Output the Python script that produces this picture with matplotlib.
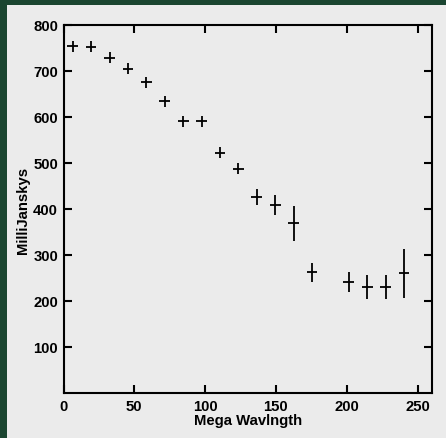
import numpy as np
import matplotlib.pyplot as plt
from matplotlib.patches import Rectangle

plt.rcParams['font.family'] = ['Liberation Sans', 'DejaVu Sans']
plt.rcParams['font.weight'] = 'bold'

# visibility amplitude vs baseline
wave = [6.5, 19.5, 32.5, 45.5, 58.5, 71.5, 84.5, 97.5, 110.5, 123.5, 136.5,
        149.5, 162.5, 175.5, 201.5, 214.5, 227.5, 240.5]
flux = [754, 753, 729, 705, 676, 634, 591, 591, 522, 488, 426,
        409, 369, 262, 241, 231, 231, 260]
flux_err = [12, 12, 12, 12, 12, 12, 12, 12, 12, 12, 17,
            21, 38, 20, 21, 26, 26, 53]
wave_err = 3.8

bg = '#ebebeb'
green = '#1a4530'
fig = plt.figure(figsize=(4.46, 4.39), dpi=100)
fig.patch.set_facecolor(bg)
# dark frame on the left and top edges
fig.patches.append(Rectangle((0, 0), 7/446, 1, transform=fig.transFigure,
                             facecolor=green, edgecolor='none'))
fig.patches.append(Rectangle((0, 1 - 6/439), 1, 6/439, transform=fig.transFigure,
                             facecolor=green, edgecolor='none'))

ax = fig.add_axes([63.5/446, 45/439, 368.2/446, 368/439])
ax.set_facecolor(bg)
ax.errorbar(wave, flux, xerr=wave_err, yerr=flux_err, fmt='none',
            ecolor='black', elinewidth=1.3, capsize=0)

ax.set_xlim(0, 260)
ax.set_ylim(0, 800)
ax.set_xticks([0, 50, 100, 150, 200, 250])
ax.set_yticks([100, 200, 300, 400, 500, 600, 700, 800])
ax.tick_params(direction='in', length=6, width=1.5, top=True, right=True,
               labelsize=10.7, pad=4, colors='black')
for sp in ax.spines.values():
    sp.set_linewidth(1.5)

ax.set_xlabel('Mega Wavlngth', fontsize=10.7, fontweight='bold', labelpad=0.5)
ax.set_ylabel('MilliJanskys', fontsize=10.7, fontweight='bold', labelpad=2)

fig.savefig('out.png', dpi=100, facecolor=fig.get_facecolor())
